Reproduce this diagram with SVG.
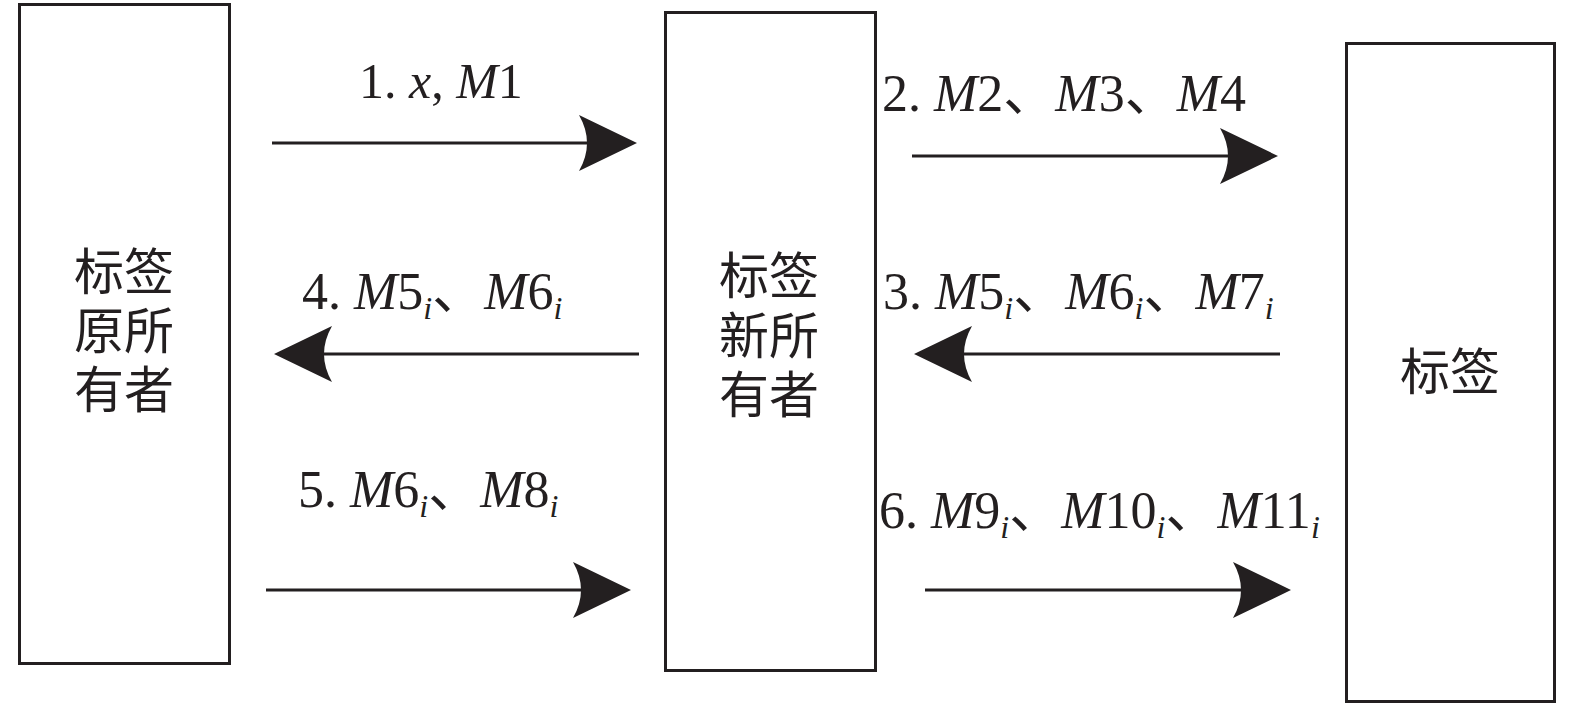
<svg xmlns="http://www.w3.org/2000/svg" width="1575" height="709" viewBox="0 0 1575 709">
  <style>
    .box { fill: #ffffff; stroke: #231f20; stroke-width: 3; }
    .cjk { font-family: "Noto Sans CJK SC", sans-serif; font-size: 50px; fill: #231f20; text-anchor: middle; }
    .lbl { font-family: "Liberation Serif", "Noto Sans CJK SC", serif; font-size: 52px; fill: #231f20; }
    .it { font-style: italic; }
    .sub { font-style: italic; font-size: 32px; }
    .line { stroke: #231f20; stroke-width: 3; fill: none; marker-end: url(#ah); }
  </style>
  <defs>
    <marker id="ah" markerUnits="userSpaceOnUse" viewBox="-60 -30 62 60" markerWidth="62" markerHeight="60" refX="-49" refY="0" orient="auto">
      <path d="M0,0 L-58,-28 Q-42,0 -58,28 Z" fill="#231f20"/>
    </marker>
  </defs>
  <rect width="1575" height="709" fill="#ffffff"/>

  <g id="node-original-owner">
    <rect class="box" x="19.5" y="4.5" width="210" height="659"/>
    <text class="cjk"><tspan x="124" y="290">标签</tspan><tspan x="124" y="349">原所</tspan><tspan x="124" y="408">有者</tspan></text>
  </g>

  <g id="node-new-owner">
    <rect class="box" x="665.5" y="12.5" width="210" height="658"/>
    <text class="cjk"><tspan x="769" y="294">标签</tspan><tspan x="769" y="354">新所</tspan><tspan x="769" y="413">有者</tspan></text>
  </g>

  <g id="node-tag">
    <rect class="box" x="1346.5" y="43.5" width="208" height="658"/>
    <text class="cjk" x="1450" y="390">标签</text>
  </g>

  <g id="connectors">
    <line class="line" x1="272" y1="143" x2="588" y2="143"/>
    <line class="line" x1="912" y1="156" x2="1229" y2="156"/>
    <line class="line" x1="1280" y1="354" x2="963" y2="354"/>
    <line class="line" x1="639" y1="354" x2="323" y2="354"/>
    <line class="line" x1="266" y1="590" x2="582" y2="590"/>
    <line class="line" x1="925" y1="590" x2="1242" y2="590"/>
  </g>

  <g id="labels">
    <text class="lbl" x="359" y="98" style="font-size:50px">1. <tspan class="it">x</tspan>, <tspan class="it">M</tspan>1</text>
    <text class="lbl" x="882" y="111">2. <tspan class="it">M</tspan>2、<tspan class="it">M</tspan>3、<tspan class="it">M</tspan>4</text>
    <text class="lbl" x="883" y="309">3. <tspan class="it">M</tspan>5<tspan class="sub" dy="10">i</tspan><tspan dy="-10">、</tspan><tspan class="it">M</tspan>6<tspan class="sub" dy="10">i</tspan><tspan dy="-10">、</tspan><tspan class="it">M</tspan>7<tspan class="sub" dy="10">i</tspan></text>
    <text class="lbl" x="302" y="309">4. <tspan class="it">M</tspan>5<tspan class="sub" dy="10">i</tspan><tspan dy="-10">、</tspan><tspan class="it">M</tspan>6<tspan class="sub" dy="10">i</tspan></text>
    <text class="lbl" x="298" y="507">5. <tspan class="it">M</tspan>6<tspan class="sub" dy="10">i</tspan><tspan dy="-10">、</tspan><tspan class="it">M</tspan>8<tspan class="sub" dy="10">i</tspan></text>
    <text class="lbl" x="879" y="528">6. <tspan class="it">M</tspan>9<tspan class="sub" dy="10">i</tspan><tspan dy="-10">、</tspan><tspan class="it">M</tspan>10<tspan class="sub" dy="10">i</tspan><tspan dy="-10">、</tspan><tspan class="it">M</tspan>11<tspan class="sub" dy="10">i</tspan></text>
  </g>
</svg>
